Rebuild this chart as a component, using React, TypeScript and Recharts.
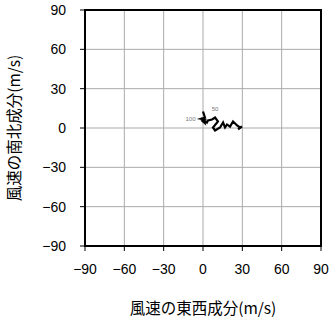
import React from 'react';
import {
  ComposedChart,
  Scatter,
  XAxis,
  YAxis,
  CartesianGrid,
  ReferenceArea,
  LabelList,
} from 'recharts';

// hodograph: east-west (u) and north-south (v) wind components, m/s
const uWind = [0, 1.5, -1.5, 1, -0.5, 1.2, 0.8, 3, 3.8, 6.9, 9.2, 11.4, 7.6, 9.2, 13, 15.3, 16.8, 18.3, 20.6, 22.9, 26, 28.2, 29.7, 26.7];
const vWind = [12.6, 8, 7, 6.5, 5.5, 4, 6, 4.2, 5.7, 6.5, 8, 5, 0.4, -1.9, 0.4, 4.2, 0.4, 2.7, 1.1, 5, 1.9, 0.4, 1.1, -1.1];
const leftLabels = ['', '', '100', '', '', '', '', '', '', '', '', '', '', '', '', '', '', '', '', '', '', '', '', ''];
const topLabels = ['', '', '', '', '', '', '', '', '', '', '50', '', '', '', '', '', '', '', '', '', '', '', '', ''];
const ticks = [-90, -60, -30, 0, 30, 60, 90];

const data = uWind.map((u, i) => ({ u, v: vWind[i], labL: leftLabels[i], labT: topLabels[i] }));

const fmt = (v: number) => (v < 0 ? `\u2212${Math.abs(v)}` : `${v}`);
const font = '"Liberation Sans", Arial, Helvetica, sans-serif';
const jpFont = '"Noto Sans CJK JP", sans-serif';

const App: React.FC = () => {
  return (
    <div style={{ position: 'absolute', left: 0, top: 0 }}>
      <ComposedChart
        width={331}
        height={318}
        margin={{ top: 10, right: 10, bottom: 0, left: 0 }}
      >
        <CartesianGrid stroke="#aaaaaa" strokeWidth={1} />
        <XAxis
          type="number"
          dataKey="u"
          domain={[-90, 90]}
          ticks={ticks}
          tickFormatter={fmt}
          height={72}
          axisLine={{ stroke: '#000' }}
          tickLine={{ stroke: '#000' }}
          tickSize={5}
          tickMargin={13}
          tick={{ fill: '#000', fontSize: 14, fontFamily: font }}
          label={{
            value: '風速の東西成分(m/s)',
            position: 'insideBottom',
            offset: 4,
            fill: '#000',
            fontSize: 15.5,
            fontFamily: jpFont,
          }}
        />
        <YAxis
          type="number"
          dataKey="v"
          domain={[-90, 90]}
          ticks={ticks}
          tickFormatter={fmt}
          width={85}
          axisLine={{ stroke: '#000' }}
          tickLine={{ stroke: '#000' }}
          tickSize={5}
          tickMargin={14}
          tick={{ fill: '#000', fontSize: 14, fontFamily: font }}
          label={{
            value: '風速の南北成分(m/s)',
            angle: -90,
            position: 'insideLeft',
            offset: 14,
            style: { textAnchor: 'middle' },
            fill: '#000',
            fontSize: 15.5,
            fontFamily: jpFont,
          }}
        />
        <ReferenceArea
          x1={-90}
          x2={90}
          y1={-90}
          y2={90}
          fill="none"
          stroke="#000"
          strokeWidth={2}
          ifOverflow="visible"
        />
        <Scatter
          data={data}
          dataKey="v"
          line={{ stroke: '#000', strokeWidth: 2.2 }}
          shape={() => <g />}
          isAnimationActive={false}
        >
          <LabelList
            dataKey="labL"
            position="left"
            offset={1}
            style={{ fontSize: 6, fill: '#777', fontFamily: font }}
          />
          <LabelList
            dataKey="labT"
            position="top"
            offset={2}
            style={{ fontSize: 6, fill: '#777', fontFamily: font }}
          />
        </Scatter>
      </ComposedChart>
    </div>
  );
};

export default App;
